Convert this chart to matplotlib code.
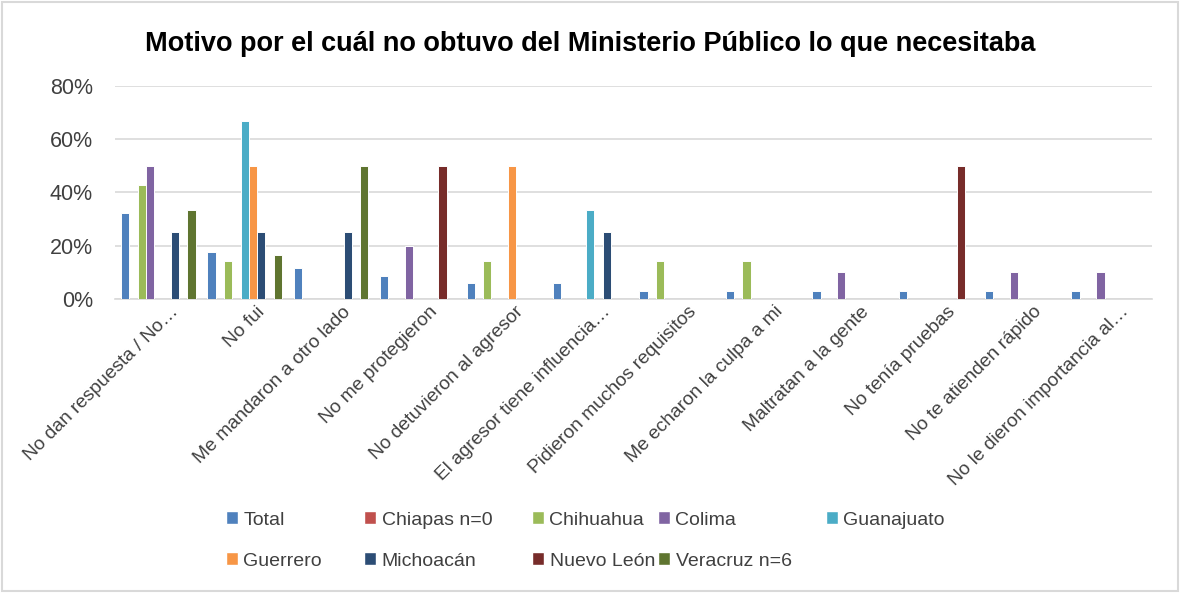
import numpy as np
import matplotlib.pyplot as plt
import matplotlib.transforms as mtransforms
from matplotlib.patches import Patch, Rectangle
from matplotlib.ticker import PercentFormatter

plt.rcParams['font.family'] = ['Liberation Sans', 'DejaVu Sans']

categories = ["No dan respuesta / No…", "No fui", "Me mandaron a otro lado",
              "No me protegieron", "No detuvieron al agresor",
              "El agresor tiene influencia…", "Pidieron muchos requisitos",
              "Me echaron la culpa a mi", "Maltratan a la gente",
              "No tenía pruebas", "No te atienden rápido",
              "No le dieron importancia al…"]

total      = [32.4, 17.6, 11.8, 8.8, 5.9, 5.9, 2.9, 2.9, 2.9, 2.9, 2.9, 2.9]
chiapas    = [0, 0, 0, 0, 0, 0, 0, 0, 0, 0, 0, 0]
chihuahua  = [42.9, 14.3, 0, 0, 14.3, 0, 14.3, 14.3, 0, 0, 0, 0]
colima     = [50, 0, 0, 20, 0, 0, 0, 0, 10, 0, 10, 10]
guanajuato = [0, 66.7, 0, 0, 0, 33.3, 0, 0, 0, 0, 0, 0]
guerrero   = [0, 50, 0, 0, 50, 0, 0, 0, 0, 0, 0, 0]
michoacan  = [25, 25, 25, 0, 0, 25, 0, 0, 0, 0, 0, 0]
nuevo_leon = [0, 0, 0, 50, 0, 0, 0, 0, 0, 50, 0, 0]
veracruz   = [33.3, 16.7, 50, 0, 0, 0, 0, 0, 0, 0, 0, 0]

series = ["Total", "Chiapas n=0", "Chihuahua", "Colima", "Guanajuato",
          "Guerrero", "Michoacán", "Nuevo León", "Veracruz n=6"]
values = [total, chiapas, chihuahua, colima, guanajuato, guerrero,
          michoacan, nuevo_leon, veracruz]
colors = ["#4F81BD", "#C0504D", "#9BBB59", "#8064A2", "#4BACC6",
          "#F79646", "#2C4D75", "#772C2A", "#5F7530"]

fig = plt.figure(figsize=(11.8, 5.93), dpi=100)
fig.patches.append(Rectangle((0.002, 0.003), 0.996, 0.994, transform=fig.transFigure,
                             facecolor='none', edgecolor='#d9d9d9', linewidth=1.5))
ax = fig.add_axes([0.0975, 0.4958, 0.8788, 0.3592])

x = np.arange(len(categories))
w = 0.096
for j, (name, vals, c) in enumerate(zip(series, values, colors)):
    v = np.array(vals, dtype=float)
    v[v == 0] = np.nan
    ax.bar(x + (j - 4) * w, v, width=w, color=c, edgecolor='white',
           linewidth=0.7, label=name, zorder=3)

ax.set_xlim(-0.5, len(categories) - 0.5)
ax.set_ylim(0, 80)
ax.set_yticks([0, 20, 40, 60, 80])
ax.yaxis.set_major_formatter(PercentFormatter(decimals=0))
ax.grid(axis='y', color='#d9d9d9', linewidth=1.2, zorder=0)
for s in ['top', 'right', 'left']:
    ax.spines[s].set_visible(False)
ax.spines['bottom'].set_color('#d9d9d9')
ax.spines['bottom'].set_linewidth(1.2)
ax.tick_params(axis='both', length=0, labelsize=15.5, colors='#404040')
ax.tick_params(axis='y', pad=16)
ax.set_xticks(x)
ax.set_xticklabels(categories, rotation=45, ha='right', rotation_mode='anchor',
                   fontsize=13.8)
ax.tick_params(axis='x', pad=3)
# Excel puts the rotated labels a little to the right of the tick
shift = mtransforms.ScaledTranslation(11 / 100, 0, fig.dpi_scale_trans)
for lab in ax.get_xticklabels():
    lab.set_transform(lab.get_transform() + shift)

fig.text(0.5, 0.925, "Motivo por el cuál no obtuvo del Ministerio Público lo que necesitaba",
         ha='center', va='center', fontsize=19.5, fontweight='bold')

# legend laid out like the Excel one: 5 columns, 2 rows
leg_x = [226, 364, 532, 658, 826]
leg_y = [520, 561]
for j, (name, c) in enumerate(zip(series, colors)):
    px = leg_x[j % 5] / 1180
    py = 1 - leg_y[j // 5] / 593
    fig.legend(handles=[Patch(facecolor=c, edgecolor='white')], labels=[name],
               loc='center left', bbox_to_anchor=(px, py), frameon=False,
               fontsize=14, handlelength=0.6, handleheight=0.6,
               handletextpad=0.3, borderpad=0, borderaxespad=0,
               labelcolor='#404040')

fig.savefig("out.png", dpi=100)
